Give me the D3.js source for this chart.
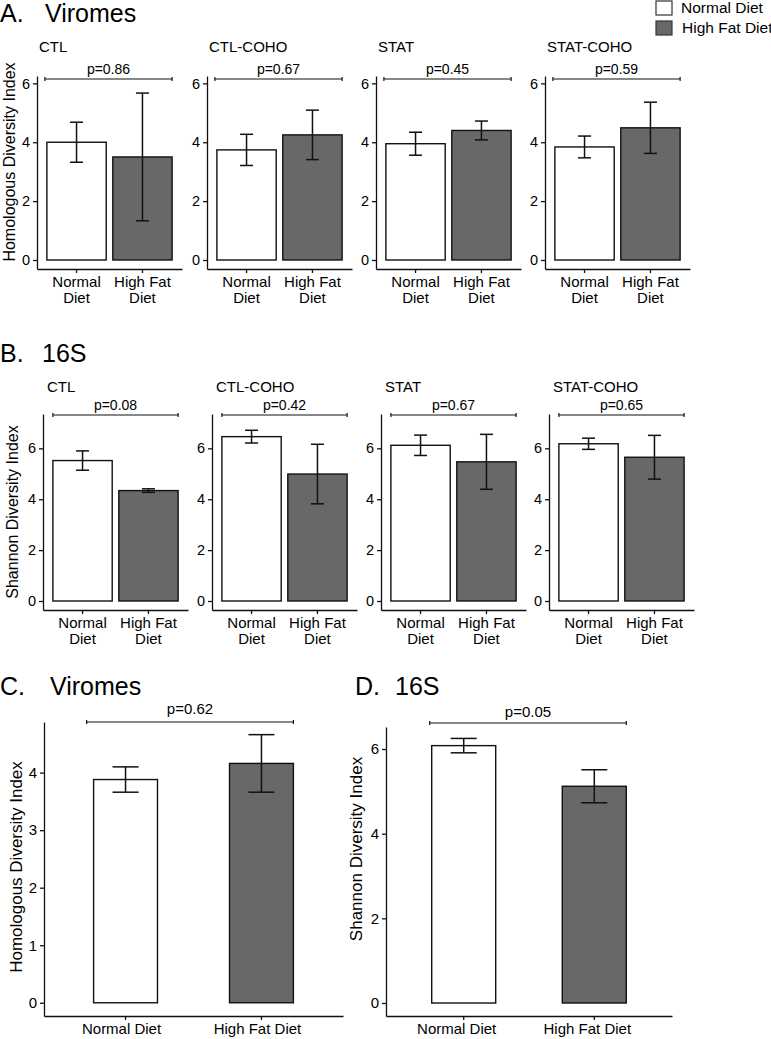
<!DOCTYPE html>
<html>
<head>
<meta charset="utf-8">
<script src="https://cdn.jsdelivr.net/npm/d3@7"></script>
<style>
  body { margin: 0; background: #fff; }
  text { font-family: "Liberation Sans", Arial, sans-serif; fill: #000; }
</style>
</head>
<body>
<svg id="fig" width="771" height="1039"></svg>
<script>
// ---- data ----
var groups = ["Normal Diet", "High Fat Diet"];
var treatments = ["CTL", "CTL-COHO", "STAT", "STAT-COHO"];

// A. viromes, per treatment
var viromeNormal    = [4.00, 3.74, 3.95, 3.84];
var viromeNormalErr = [0.68, 0.53, 0.39, 0.37];
var viromeHFD       = [3.50, 4.25, 4.40, 4.49];
var viromeHFDErr    = [2.17, 0.84, 0.32, 0.87];
var viromeP         = ["p=0.86", "p=0.67", "p=0.45", "p=0.59"];

// B. 16S, per treatment
var s16Normal    = [5.52, 6.46, 6.12, 6.18];
var s16NormalErr = [0.38, 0.25, 0.40, 0.22];
var s16HFD       = [4.34, 4.99, 5.47, 5.65];
var s16HFDErr    = [0.07, 1.17, 1.08, 0.86];
var s16P         = ["p=0.08", "p=0.42", "p=0.67", "p=0.65"];

// C. / D. pooled
var pooledVirome    = [3.88, 4.16];
var pooledViromeErr = [0.22, 0.50];
var pooledViromeP   = "p=0.62";
var pooled16S       = [6.08, 5.12];
var pooled16SErr    = [0.17, 0.39];
var pooled16SP      = "p=0.05";

var viromeTicks = [0, 2, 4, 6];
var s16Ticks = [0, 2, 4, 6];
var pooledViromeTicks = [0, 1, 2, 3, 4];
var pooled16STicks = [0, 2, 4, 6];

var colors = ["#ffffff", "#686868"];
var ink = "#111";

var svg = d3.select("#fig");

function splitLabel(s) {
    var k = s.lastIndexOf(" ");
    return [s.slice(0, k), s.slice(k + 1)];
}

function drawPanel(o) {
    var x = d3.scaleBand().domain(groups)
        .range([o.x0, o.x0 + o.w])
        .paddingInner(o.pi).paddingOuter(o.po);
    var y = d3.scaleLinear().domain([o.ymin, o.ymax]).range([o.bottom, o.top]);
    var g = svg.append("g");

    // y axis
    var ya = g.append("g")
        .attr("transform", "translate(" + o.x0 + ",0)")
        .call(d3.axisLeft(y).tickValues(o.ticks).tickFormat(d3.format("d"))
            .tickSize(4).tickSizeOuter(0).tickPadding(3));
    ya.attr("font-size", null).attr("font-family", null);
    ya.selectAll("path, line").attr("stroke", ink).attr("stroke-width", 1.3);
    ya.selectAll("text").style("font-size", o.tickFont + "px");

    // x axis
    var xa = g.append("g")
        .attr("transform", "translate(0," + o.bottom + ")")
        .call(d3.axisBottom(x).tickSize(4).tickSizeOuter(0));
    xa.attr("font-size", null).attr("font-family", null);
    xa.selectAll("path, line").attr("stroke", ink).attr("stroke-width", 1.3);
    xa.selectAll(".tick text").remove();
    xa.selectAll(".tick").each(function(d) {
        var lines = o.twoLine ? splitLabel(d) : [d];
        var t = d3.select(this).append("text")
            .attr("text-anchor", "middle")
            .style("font-size", o.labelFont + "px");
        lines.forEach(function(l, i) {
            t.append("tspan").attr("x", o.labelDx).attr("y", 18 + i * 16).text(l);
        });
    });

    // bars
    g.selectAll("rect.bar").data(groups).enter().append("rect")
        .attr("class", "bar")
        .attr("x", function(d) { return x(d); })
        .attr("y", function(d, i) { return y(o.means[i]); })
        .attr("width", x.bandwidth())
        .attr("height", function(d, i) { return y(0) - y(o.means[i]); })
        .attr("fill", function(d, i) { return colors[i]; })
        .attr("stroke", ink)
        .attr("stroke-width", 1.4);

    // error bars
    var eb = g.selectAll("g.err").data(groups).enter().append("g").attr("class", "err");
    eb.each(function(d, i) {
        var cx = x(d) + x.bandwidth() / 2;
        var hi = y(o.means[i] + o.errs[i]), lo = y(o.means[i] - o.errs[i]);
        var e = d3.select(this).attr("stroke", ink).attr("stroke-width", 1.5);
        e.append("line").attr("x1", cx).attr("x2", cx).attr("y1", hi).attr("y2", lo);
        e.append("line").attr("x1", cx - o.cap / 2).attr("x2", cx + o.cap / 2).attr("y1", hi).attr("y2", hi);
        e.append("line").attr("x1", cx - o.cap / 2).attr("x2", cx + o.cap / 2).attr("y1", lo).attr("y2", lo);
    });

    // significance bracket
    var bx1 = x(groups[0]) - o.bracketPad, bx2 = x(groups[1]) + x.bandwidth();
    var br = g.append("g").attr("stroke", ink).attr("stroke-width", 1.2);
    br.append("line").attr("x1", bx1).attr("x2", bx2).attr("y1", o.bracketY).attr("y2", o.bracketY);
    br.append("line").attr("x1", bx1).attr("x2", bx1).attr("y1", o.bracketY - 2).attr("y2", o.bracketY + 2);
    br.append("line").attr("x1", bx2).attr("x2", bx2).attr("y1", o.bracketY - 2).attr("y2", o.bracketY + 2);
    g.append("text")
        .attr("x", (bx1 + bx2) / 2).attr("y", o.bracketY - o.pGap)
        .attr("text-anchor", "middle")
        .style("font-size", o.pFont + "px")
        .text(o.p);

    if (o.title) {
        g.append("text").attr("x", o.x0 + o.titleDx).attr("y", o.titleY)
            .style("font-size", "15px").text(o.title);
    }
}

function yLabel(txt, x, cy, size) {
    svg.append("text")
        .attr("transform", "translate(" + x + "," + cy + ") rotate(-90)")
        .attr("text-anchor", "middle")
        .style("font-size", size + "px")
        .text(txt);
}

function heading(letter, word, x, wx, y) {
    svg.append("text").attr("x", x).attr("y", y).style("font-size", "25px").text(letter);
    svg.append("text").attr("x", wx).attr("y", y).style("font-size", "25px").text(word);
}

// ---- A. Viromes ----
heading("A.", "Viromes", 0, 45, 22);
var axA = [37, 207, 376, 545];
treatments.forEach(function(t, i) {
    drawPanel({
        x0: axA[i], w: 145, top: 76, bottom: 269, ymin: -0.306, ymax: 6.25,
        ticks: viromeTicks, pi: 0.1, po: 0.15, cap: 13,
        means: [viromeNormal[i], viromeHFD[i]], errs: [viromeNormalErr[i], viromeHFDErr[i]],
        p: viromeP[i], bracketY: 79, bracketPad: 2, pGap: 5, pFont: 14,
        twoLine: true, labelDx: 0, labelFont: 15, tickFont: 14.5,
        title: t, titleDx: 2, titleY: 52
    });
});
yLabel("Homologous Diversity Index", 15, 162, 16);

// legend
groups.forEach(function(gname, i) {
    svg.append("rect").attr("x", 656).attr("y", 1 + i * 20).attr("width", 16).attr("height", 14)
        .attr("fill", colors[i]).attr("stroke", "#333").attr("stroke-width", 1.2);
    svg.append("text").attr("x", 681 + i).attr("y", 13 + i * 20)
        .style("font-size", "15.5px").text(gname);
});

// ---- B. 16S ----
heading("B.", "16S", 0, 42, 362);
var axB = [43, 212, 381, 549];
treatments.forEach(function(t, i) {
    drawPanel({
        x0: axB[i], w: 145, top: 414, bottom: 610, ymin: -0.354, ymax: 7.35,
        ticks: s16Ticks, pi: 0.1, po: 0.15, cap: 13,
        means: [s16Normal[i], s16HFD[i]], errs: [s16NormalErr[i], s16HFDErr[i]],
        p: s16P[i], bracketY: 415, bracketPad: 0, pGap: 5, pFont: 14,
        twoLine: true, labelDx: 0, labelFont: 15, tickFont: 14.5,
        title: t, titleDx: 4, titleY: 392
    });
});
yLabel("Shannon Diversity Index", 18, 512, 16);

// ---- C. pooled viromes ----
heading("C.", "Viromes", 0, 50, 695);
drawPanel({
    x0: 44, w: 299, top: 722, bottom: 1016, ymin: -0.23, ymax: 4.88,
    ticks: pooledViromeTicks, pi: 0.53, po: 0.365, cap: 26,
    means: pooledVirome, errs: pooledViromeErr,
    p: pooledViromeP, bracketY: 722, bracketPad: 7, pGap: 8, pFont: 15,
    twoLine: false, labelDx: -4, labelFont: 15, tickFont: 15
});
yLabel("Homologous Diversity Index", 22, 867, 17);

// ---- D. pooled 16S ----
heading("D.", "16S", 355, 395, 695);
drawPanel({
    x0: 386, w: 286, top: 727, bottom: 1016, ymin: -0.307, ymax: 6.52,
    ticks: pooled16STicks, pi: 0.51, po: 0.35, cap: 26,
    means: pooled16S, errs: pooled16SErr,
    p: pooled16SP, bracketY: 723, bracketPad: 2, pGap: 6, pFont: 15,
    twoLine: false, labelDx: -7, labelFont: 15, tickFont: 15
});
yLabel("Shannon Diversity Index", 362, 849, 17);
</script>
</body>
</html>
